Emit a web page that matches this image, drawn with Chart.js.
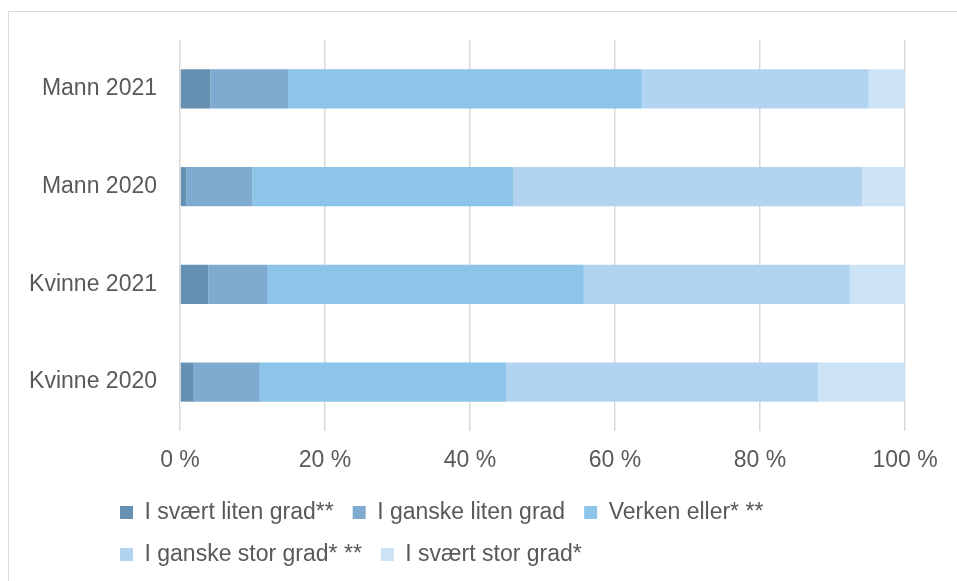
<!DOCTYPE html>
<html>
<head>
<meta charset="utf-8">
<script src="https://cdn.jsdelivr.net/npm/chart.js@4.4.0/dist/chart.umd.min.js"></script>
<style>
  html, body { margin: 0; padding: 0; background: #fff; overflow: hidden; }
  #wrap { position: relative; width: 957px; height: 581px; }
  #frame { position: absolute; left: 8px; top: 11px; width: 1000px; height: 1000px; border: 1.5px solid #d9d9d9; }
  #myChart { position: absolute; left: 0; top: 0; }
</style>
</head>
<body>
<div id="wrap">
  <div id="frame"></div>
  <canvas id="myChart" width="957" height="581"></canvas>
</div>
<script>
// categories, top to bottom
const categories = ['Mann 2021', 'Mann 2020', 'Kvinne 2021', 'Kvinne 2020'];

// share of answers in percent
const svaertLiten = [4.2, 0.9, 3.9, 1.9];
const ganskeLiten = [10.7, 9.1, 8.2, 9.1];
const verkenEller = [48.8, 36.0, 43.6, 34.0];
const ganskeStor = [31.3, 48.1, 36.7, 43.0];
const svaertStor = [5.0, 5.9, 7.6, 12.0];

const seriesNames = ['I svært liten grad**', 'I ganske liten grad', 'Verken eller* **', 'I ganske stor grad* **', 'I svært stor grad*'];
const xTicks = [0, 20, 40, 60, 80, 100];

const colors = ['#6791B3', '#7EABCF', '#8DC4EA', '#B2D4F1', '#CCE2F5'];

document.addEventListener('DOMContentLoaded', () => {
  const values = [svaertLiten, ganskeLiten, verkenEller, ganskeStor, svaertStor];
  const datasets = values.map((data, i) => ({
    label: seriesNames[i],
    data: data,
    backgroundColor: colors[i],
    borderWidth: 0,
    barPercentage: 0.4,
    categoryPercentage: 1.0
  }));

  const font = { family: '"Liberation Sans", Arial, sans-serif', size: 23 };
  Chart.defaults.color = '#595959';

  // push the legend in so it starts under the plot, like the Excel original
  const legendShift = {
    id: 'legendShift',
    afterLayout(chart) {
      if (chart.legend) {
        chart.legend.left += 93;
      }
    }
  };

  const ctx = document.getElementById('myChart').getContext('2d');
  new Chart(ctx, {
    type: 'bar',
    data: { labels: categories, datasets: datasets },
    plugins: [legendShift],
    options: {
      indexAxis: 'y',
      responsive: false,
      animation: false,
      layout: { padding: { left: 8, right: 52, top: 40, bottom: 5 } },
      plugins: {
        tooltip: { enabled: false },
        legend: {
          position: 'bottom',
          align: 'start',
          labels: {
            font: font,
            color: '#595959',
            boxWidth: 13,
            boxHeight: 13,
            padding: 19
          }
        }
      },
      scales: {
        x: {
          stacked: true,
          min: 0,
          max: 100,
          afterBuildTicks: axis => {
            axis.ticks = xTicks.map(v => ({ value: v }));
          },
          afterFit: axis => { axis.height = 51; },
          grid: { color: '#d9d9d9', lineWidth: 1.5, drawTicks: false },
          border: { display: false },
          ticks: {
            font: font,
            color: '#595959',
            padding: 16,
            callback: v => v + ' %'
          }
        },
        y: {
          stacked: true,
          afterFit: axis => { axis.width = 172; },
          grid: { display: false, drawTicks: false },
          border: { display: false },
          ticks: { font: font, color: '#595959', padding: 23 }
        }
      }
    }
  });
});
</script>
</body>
</html>
